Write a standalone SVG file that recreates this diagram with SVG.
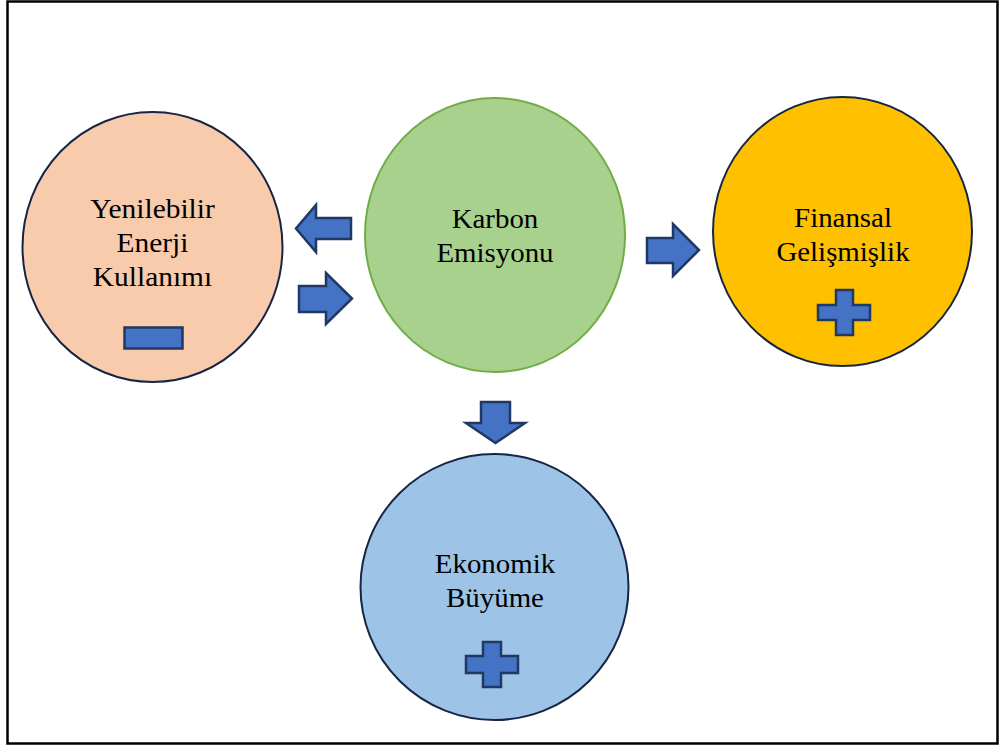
<svg xmlns="http://www.w3.org/2000/svg" width="1000" height="747" viewBox="0 0 1000 747">
<style>
.node{stroke-width:2}
.lbl{font-family:"Liberation Serif","Times New Roman",serif;font-size:27px;fill:#000;text-anchor:middle}
.sym{fill:#4472C4;stroke:#1F3864;stroke-width:2.5;stroke-linejoin:miter}
</style>
<rect x="0" y="0" width="1000" height="747" fill="#fff"/>
<rect x="7.5" y="1.5" width="990" height="742" fill="none" stroke="#000" stroke-width="2.5"/>
<g id="yenilebilir">
<ellipse class="node" cx="152.5" cy="247" rx="130" ry="135" fill="#F8CBAD" stroke="#172545"/>
<g transform="translate(152.5,0) scale(1.09,1)">
<text class="lbl" x="0" y="218">Yenilebilir</text>
<text class="lbl" x="0" y="252">Enerji</text>
<text class="lbl" x="0" y="286">Kullanımı</text>
</g>
<rect class="sym" x="124.5" y="327.5" width="58" height="21"/>
</g>
<g id="karbon">
<ellipse class="node" cx="495" cy="235" rx="130" ry="137" fill="#A9D18E" stroke="#70AD47"/>
<g transform="translate(495,0) scale(1.07,1)">
<text class="lbl" x="0" y="228">Karbon</text>
<text class="lbl" x="0" y="262">Emisyonu</text>
</g>
</g>
<g id="finansal">
<ellipse class="node" cx="842.5" cy="231.5" rx="129.5" ry="134.5" fill="#FFC000" stroke="#172545"/>
<g transform="translate(843,0) scale(1.07,1)">
<text class="lbl" x="0" y="227">Finansal</text>
<text class="lbl" x="0" y="261">Gelişmişlik</text>
</g>
<path class="sym" d="M836,290 H853 V305 H870 V320 H853 V335 H836 V320 H818 V305 H836 Z"/>
</g>
<g id="ekonomik">
<ellipse class="node" cx="494.5" cy="587" rx="134" ry="133" fill="#9DC3E6" stroke="#172545"/>
<g transform="translate(495,0) scale(1.07,1)">
<text class="lbl" x="0" y="573">Ekonomik</text>
<text class="lbl" x="0" y="607">Büyüme</text>
</g>
<path class="sym" d="M483,642 H501 V656 H518 V673 H501 V687 H483 V673 H466 V656 H483 Z"/>
</g>
<g id="connectors">
<path class="sym" d="M351,218 H316 V205 L296,228.5 L316,252 V239 H351 Z"/>
<path class="sym" d="M299,286 H326 V273 L352,298.5 L326,324 V312 H299 Z"/>
<path class="sym" d="M647,238 H673 V224 L699,250 L673,276 V263 H647 Z"/>
<path class="sym" d="M481,402 H510 V423 H525 L495.5,443 L466,423 H481 Z"/>
</g>
</svg>
